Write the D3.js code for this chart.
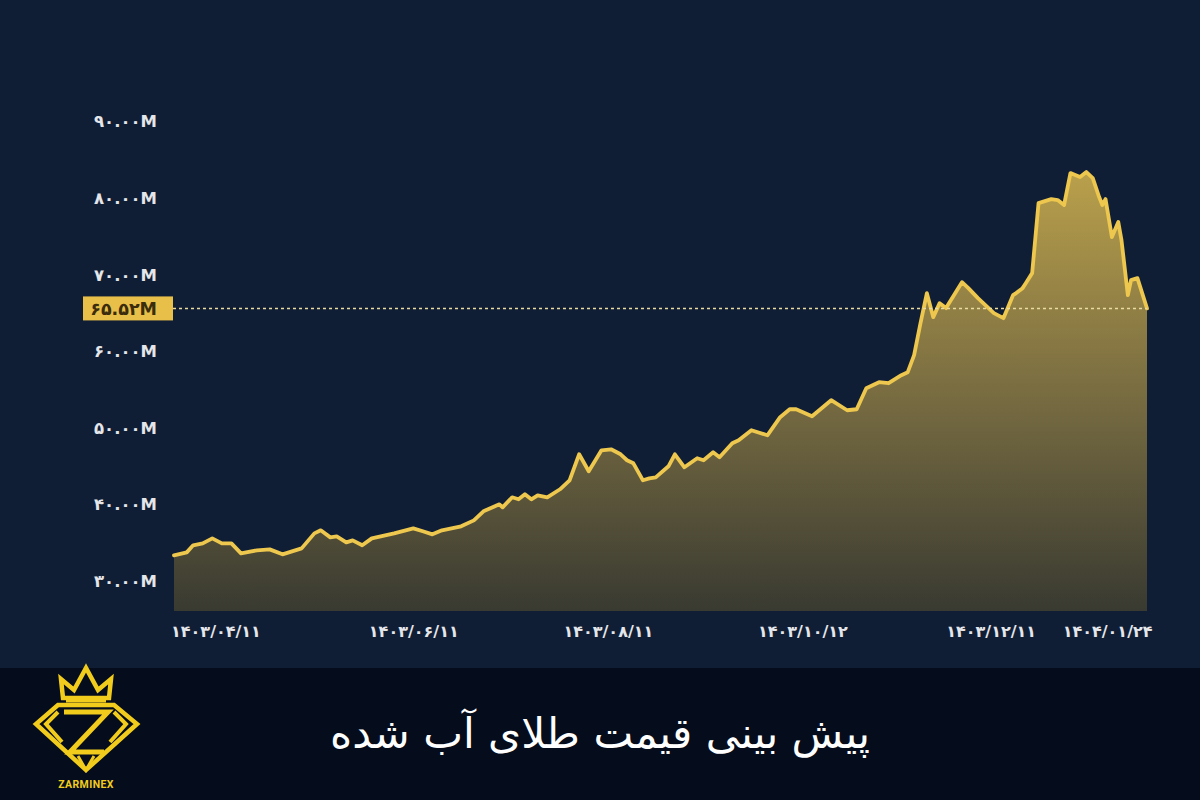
<!DOCTYPE html>
<html>
<head>
<meta charset="utf-8">
<script src="https://cdn.jsdelivr.net/npm/d3@7"></script>
<style>
  html, body { margin: 0; padding: 0; background: #101e35; }
  svg { display: block; }
</style>
</head>
<body>
<svg id="chart" width="1200" height="800"></svg>
<script>
// ---------------- DATA ----------------
const dates = [
  "2024-06-18","2024-06-22","2024-06-24","2024-06-27","2024-06-30","2024-07-03","2024-07-06","2024-07-09",
  "2024-07-14","2024-07-18","2024-07-22","2024-07-25","2024-07-28","2024-08-01","2024-08-03","2024-08-06",
  "2024-08-08","2024-08-11","2024-08-13","2024-08-16","2024-08-19","2024-08-26","2024-09-01","2024-09-04",
  "2024-09-07","2024-09-10","2024-09-16","2024-09-20","2024-09-23","2024-09-28","2024-09-29","2024-10-02",
  "2024-10-04","2024-10-06","2024-10-08","2024-10-10","2024-10-13","2024-10-17","2024-10-20","2024-10-23",
  "2024-10-26","2024-10-30","2024-11-02","2024-11-05","2024-11-07","2024-11-09","2024-11-12","2024-11-14",
  "2024-11-16","2024-11-20","2024-11-22","2024-11-25","2024-11-29","2024-12-01","2024-12-04","2024-12-06",
  "2024-12-10","2024-12-12","2024-12-16","2024-12-21","2024-12-25","2024-12-28","2024-12-30","2025-01-04",
  "2025-01-10","2025-01-15","2025-01-18","2025-01-21","2025-01-25","2025-01-28","2025-02-01","2025-02-03",
  "2025-02-05","2025-02-07","2025-02-09","2025-02-11","2025-02-13","2025-02-15","2025-02-20","2025-02-22",
  "2025-02-25","2025-03-01","2025-03-02","2025-03-05","2025-03-08","2025-03-09","2025-03-11","2025-03-12",
  "2025-03-14","2025-03-16","2025-03-20","2025-03-22","2025-03-24","2025-03-26","2025-03-29","2025-03-31",
  "2025-04-02","2025-04-04","2025-04-05","2025-04-06","2025-04-08","2025-04-10","2025-04-11","2025-04-13",
  "2025-04-14","2025-04-16","2025-04-19"
];
// price in millions
const prices = [
  33.27,33.66,34.58,34.84,35.49,34.84,34.84,33.53,
  33.92,34.05,33.40,33.79,34.18,36.14,36.54,35.62,
  35.75,34.97,35.23,34.58,35.49,36.14,36.80,36.41,
  36.01,36.54,37.06,37.84,39.02,39.93,39.54,40.85,
  40.59,41.24,40.59,41.11,40.85,41.90,43.07,46.47,
  44.25,46.99,47.12,46.47,45.69,45.29,43.07,43.33,
  43.46,44.90,46.47,44.77,45.95,45.69,46.73,46.08,
  47.91,48.30,49.61,48.95,51.31,52.35,52.35,51.44,
  53.53,52.22,52.35,55.10,55.88,55.75,56.80,57.19,
  59.41,63.59,67.52,64.38,66.21,65.56,68.95,68.17,
  66.86,65.29,64.90,64.25,67.25,67.52,68.17,68.82,
  70.13,79.28,79.80,79.67,79.02,83.20,82.68,83.33,
  82.55,80.07,79.02,79.80,74.84,76.80,74.44,67.25,
  69.22,69.48,65.52
];
const yTicks = [30, 40, 50, 60, 70, 80, 90];
const xTickDates = ["2024-07-01","2024-09-01","2024-11-01","2025-01-01","2025-03-01","2025-04-13"];
const xTickLabels = ["1403/04/11","1403/06/11","1403/08/11","1403/10/12","1403/12/11","1404/01/24"];
const lastPrice = 65.52;
const titleText = "پیش بینی قیمت طلای آب شده";
const brandText = "ZARMINEX";

// ---------------- HELPERS ----------------
const fa = s => String(s).replace(/\d/g, d => "۰۱۲۳۴۵۶۷۸۹"[+d]);
const parse = d3.utcParse("%Y-%m-%d");
const data = dates.map((d, i) => ({ date: parse(d), value: prices[i] }));

const svg = d3.select("#chart");
const W = 1200, H = 800;
const plot = { left: 174, right: 1147, top: 121, bottom: 611 };

// backgrounds
svg.append("rect").attr("x", 0).attr("y", 0).attr("width", W).attr("height", 668).attr("fill", "#101e35");
svg.append("rect").attr("x", 0).attr("y", 668).attr("width", W).attr("height", 132).attr("fill", "#050c1b");

// scales
const x = d3.scaleUtc()
  .domain([parse("2024-06-18"), parse("2025-04-19")])
  .range([plot.left, plot.right]);
const y = d3.scaleLinear().domain([26, 90]).range([plot.bottom, plot.top]);

// gradient
const defs = svg.append("defs");
const grad = defs.append("linearGradient")
  .attr("id", "areaGrad").attr("gradientUnits", "userSpaceOnUse")
  .attr("x1", 0).attr("x2", 0).attr("y1", y(84)).attr("y2", plot.bottom);
grad.append("stop").attr("offset", "0%").attr("stop-color", "#bba14c");
grad.append("stop").attr("offset", "55%").attr("stop-color", "#736840");
grad.append("stop").attr("offset", "100%").attr("stop-color", "#393a31");

// area
const area = d3.area().x(d => x(d.date)).y0(plot.bottom).y1(d => y(d.value)).curve(d3.curveLinear);
svg.append("path").datum(data).attr("d", area).attr("fill", "url(#areaGrad)");

// line
const line = d3.line().x(d => x(d.date)).y(d => y(d.value)).curve(d3.curveLinear);
svg.append("path").datum(data).attr("d", line)
  .attr("fill", "none").attr("stroke", "#edc74e").attr("stroke-width", 3.8)
  .attr("stroke-linejoin", "round").attr("stroke-linecap", "round");

// y axis labels
const yAxis = d3.axisLeft(y).tickValues(yTicks).tickSize(0).tickPadding(0)
  .tickFormat(v => fa(d3.format(".2f")(v)) + "M");
const gy = svg.append("g").attr("transform", `translate(157,0)`).call(yAxis);
gy.select(".domain").remove();
gy.selectAll("text")
  .attr("fill", "#e4e6ea").attr("font-family", "DejaVu Sans, sans-serif")
  .attr("font-size", 16.5).attr("font-weight", "bold").attr("dy", "0.36em");

// x axis labels
const xAxis = d3.axisBottom(x).tickValues(xTickDates.map(parse)).tickSize(0).tickPadding(0)
  .tickFormat((d, i) => fa(xTickLabels[i]));
const gx = svg.append("g").attr("transform", `translate(0,${plot.bottom + 26})`).call(xAxis);
gx.select(".domain").remove();
gx.selectAll("text")
  .attr("fill", "#e4e6ea").attr("font-family", "DejaVu Sans, sans-serif")
  .attr("font-size", 16).attr("font-weight", "bold").attr("dy", 0);
// keep labels inside the frame
gx.selectAll(".tick").each(function(d) {
  const t = d3.select(this).select("text");
  const w = t.node().getComputedTextLength();
  const cx = x(d);
  const maxRight = 1152;
  if (cx + w / 2 > maxRight) t.attr("dx", maxRight - (cx + w / 2));
});

// last price dotted line and badge
const yl = y(lastPrice);
svg.append("line").attr("x1", plot.left - 1).attr("x2", plot.right).attr("y1", yl).attr("y2", yl)
  .attr("stroke", "#eadca0").attr("stroke-width", 1.4).attr("stroke-dasharray", "3,3");
svg.append("rect").attr("x", 83).attr("y", yl - 12).attr("width", 90).attr("height", 24)
  .attr("fill", "#e8bf48");
svg.append("text").attr("x", 157).attr("y", yl).attr("dy", "0.36em")
  .attr("text-anchor", "end").attr("fill", "#3a2c0c")
  .attr("font-family", "DejaVu Sans, sans-serif").attr("font-size", 17.5).attr("font-weight", "bold")
  .text(fa(lastPrice.toFixed(2)) + "M");

// title
const title = svg.append("text").attr("x", 600).attr("y", 748).attr("text-anchor", "middle")
  .attr("fill", "#ffffff").attr("font-family", "DejaVu Sans, Noto Sans, sans-serif")
  .attr("font-size", 34).attr("direction", "rtl").text(titleText);
const tw = title.node().getComputedTextLength();
if (tw > 0) title.attr("font-size", 34 * 540 / tw);

// logo
const gold = "#f2cc1c";
const logo = svg.append("g").attr("fill", "none").attr("stroke", gold).attr("stroke-width", 4.5)
  .attr("stroke-linejoin", "miter");
// crown
logo.append("path").attr("d", "M63,698 L61,679 L74,690 L86,668 L98,690 L111,679 L109,698 Z");
logo.append("path").attr("d", "M66,701 L106,701").attr("stroke-width", 3);
// diamond outline
logo.append("path").attr("d", "M58,705 L114,705 L137,724 L86,770 L36,724 Z");
// Z inside
logo.append("path").attr("d", "M64,712 L108,712 L70,752 L104,752").attr("stroke-width", 5);
logo.append("path").attr("d", "M58,712 L46,724 L62,742").attr("stroke-width", 4);
logo.append("path").attr("d", "M114,712 L126,724 L110,742").attr("stroke-width", 4);
logo.append("path").attr("d", "M78,756 L86,770 L94,756").attr("stroke-width", 3);
svg.append("text").attr("x", 86).attr("y", 788).attr("text-anchor", "middle")
  .attr("fill", gold).attr("font-family", "Roboto, sans-serif").attr("font-weight", "bold")
  .attr("font-size", 10.5).attr("letter-spacing", 0.4).text(brandText);
</script>
</body>
</html>
